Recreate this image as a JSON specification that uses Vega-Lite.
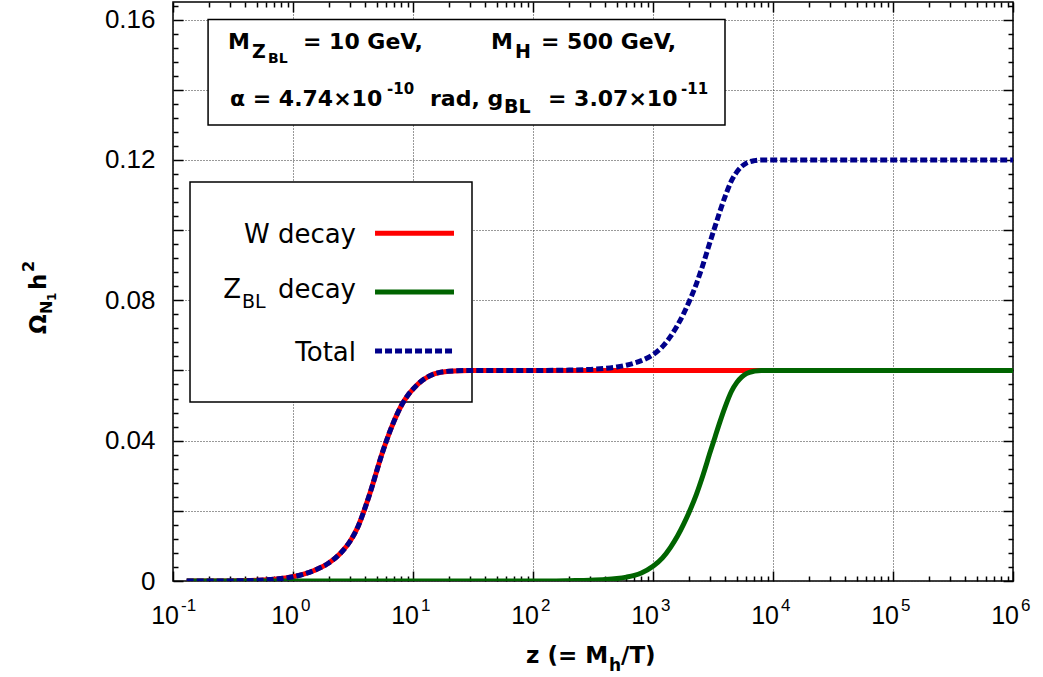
{
  "$schema": "https://vega.github.io/schema/vega-lite/v6.json",
  "width": 840,
  "height": 579,
  "autosize": {"type": "none"},
  "padding": {"left": 173, "top": 2, "right": 30, "bottom": 96},
  "background": "white",
  "config": {
    "view": {"stroke": "black", "strokeWidth": 1.5},
    "axis": {"labelFont": "Liberation Sans", "labelColor": "black", "tickColor": "black", "tickWidth": 1.5, "gridColor": "#333333", "gridDash": [1, 2], "gridWidth": 1, "gridOpacity": 1, "domain": false, "labelOverlap": false, "labelFlush": false}
  },
  "datasets": {
    "curves": [
      {"s": "W", "z": 0.13, "v": 0}, {"s": "W", "z": 0.2, "v": 0.00001}, {"s": "W", "z": 0.3, "v": 0.00003}, {"s": "W", "z": 0.5, "v": 0.0002}, {"s": "W", "z": 0.7, "v": 0.0005}, {"s": "W", "z": 1, "v": 0.0012}, {"s": "W", "z": 1.5, "v": 0.003}, {"s": "W", "z": 2, "v": 0.0052}, {"s": "W", "z": 2.5, "v": 0.008}, {"s": "W", "z": 3, "v": 0.0114}, {"s": "W", "z": 3.5, "v": 0.0157}, {"s": "W", "z": 4, "v": 0.021}, {"s": "W", "z": 4.5, "v": 0.0263}, {"s": "W", "z": 5, "v": 0.0315}, {"s": "W", "z": 5.5, "v": 0.0361}, {"s": "W", "z": 6, "v": 0.0399}, {"s": "W", "z": 7, "v": 0.0458}, {"s": "W", "z": 8, "v": 0.05}, {"s": "W", "z": 9, "v": 0.0528}, {"s": "W", "z": 10, "v": 0.0547}, {"s": "W", "z": 12, "v": 0.0572}, {"s": "W", "z": 15, "v": 0.059}, {"s": "W", "z": 20, "v": 0.0598}, {"s": "W", "z": 30, "v": 0.06}, {"s": "W", "z": 100, "v": 0.06}, {"s": "W", "z": 1000000, "v": 0.06},
      {"s": "Z", "z": 0.13, "v": 0}, {"s": "Z", "z": 100, "v": 0}, {"s": "Z", "z": 200, "v": 0.0001}, {"s": "Z", "z": 300, "v": 0.0002}, {"s": "Z", "z": 400, "v": 0.0004}, {"s": "Z", "z": 500, "v": 0.0007}, {"s": "Z", "z": 600, "v": 0.0011}, {"s": "Z", "z": 700, "v": 0.0016}, {"s": "Z", "z": 800, "v": 0.0023}, {"s": "Z", "z": 1000, "v": 0.0042}, {"s": "Z", "z": 1200, "v": 0.0066}, {"s": "Z", "z": 1400, "v": 0.0096}, {"s": "Z", "z": 1600, "v": 0.0128}, {"s": "Z", "z": 1800, "v": 0.0162}, {"s": "Z", "z": 2000, "v": 0.0196}, {"s": "Z", "z": 2300, "v": 0.0247}, {"s": "Z", "z": 2600, "v": 0.03}, {"s": "Z", "z": 3000, "v": 0.0368}, {"s": "Z", "z": 3300, "v": 0.0412}, {"s": "Z", "z": 3600, "v": 0.0452}, {"s": "Z", "z": 4000, "v": 0.0497}, {"s": "Z", "z": 4500, "v": 0.054}, {"s": "Z", "z": 5000, "v": 0.0566}, {"s": "Z", "z": 5500, "v": 0.0582}, {"s": "Z", "z": 6000, "v": 0.0591}, {"s": "Z", "z": 7000, "v": 0.0598}, {"s": "Z", "z": 8000, "v": 0.06}, {"s": "Z", "z": 10000, "v": 0.06}, {"s": "Z", "z": 1000000, "v": 0.06},
      {"s": "T", "z": 0.13, "v": 0}, {"s": "T", "z": 0.2, "v": 0.00001}, {"s": "T", "z": 0.3, "v": 0.00003}, {"s": "T", "z": 0.5, "v": 0.0002}, {"s": "T", "z": 0.7, "v": 0.0005}, {"s": "T", "z": 1, "v": 0.0012}, {"s": "T", "z": 1.5, "v": 0.003}, {"s": "T", "z": 2, "v": 0.0052}, {"s": "T", "z": 2.5, "v": 0.008}, {"s": "T", "z": 3, "v": 0.0114}, {"s": "T", "z": 3.5, "v": 0.0157}, {"s": "T", "z": 4, "v": 0.021}, {"s": "T", "z": 4.5, "v": 0.0263}, {"s": "T", "z": 5, "v": 0.0315}, {"s": "T", "z": 5.5, "v": 0.0361}, {"s": "T", "z": 6, "v": 0.0399}, {"s": "T", "z": 7, "v": 0.0458}, {"s": "T", "z": 8, "v": 0.05}, {"s": "T", "z": 9, "v": 0.0528}, {"s": "T", "z": 10, "v": 0.0547}, {"s": "T", "z": 12, "v": 0.0572}, {"s": "T", "z": 15, "v": 0.059}, {"s": "T", "z": 20, "v": 0.0598}, {"s": "T", "z": 30, "v": 0.06}, {"s": "T", "z": 100, "v": 0.06}, {"s": "T", "z": 200, "v": 0.0601}, {"s": "T", "z": 300, "v": 0.0603}, {"s": "T", "z": 400, "v": 0.0606}, {"s": "T", "z": 500, "v": 0.061}, {"s": "T", "z": 600, "v": 0.0615}, {"s": "T", "z": 700, "v": 0.0621}, {"s": "T", "z": 800, "v": 0.0628}, {"s": "T", "z": 1000, "v": 0.0645}, {"s": "T", "z": 1200, "v": 0.0668}, {"s": "T", "z": 1400, "v": 0.0697}, {"s": "T", "z": 1600, "v": 0.0729}, {"s": "T", "z": 1800, "v": 0.0762}, {"s": "T", "z": 2000, "v": 0.0796}, {"s": "T", "z": 2300, "v": 0.0847}, {"s": "T", "z": 2600, "v": 0.09}, {"s": "T", "z": 3000, "v": 0.0968}, {"s": "T", "z": 3300, "v": 0.1012}, {"s": "T", "z": 3600, "v": 0.1052}, {"s": "T", "z": 4000, "v": 0.1097}, {"s": "T", "z": 4500, "v": 0.114}, {"s": "T", "z": 5000, "v": 0.1166}, {"s": "T", "z": 5500, "v": 0.1182}, {"s": "T", "z": 6000, "v": 0.1191}, {"s": "T", "z": 7000, "v": 0.1198}, {"s": "T", "z": 8000, "v": 0.12}, {"s": "T", "z": 10000, "v": 0.12}, {"s": "T", "z": 1000000, "v": 0.12}
    ],
    "boxes": [
      {"box": "parameters", "z": 0.196, "z2": 3981, "v": 0.16, "v2": 0.12995},
      {"box": "legend", "z": 0.1386, "z2": 31.02, "v": 0.11371, "v2": 0.05101}
    ],
    "legendlines": [
      {"s": "W", "z": 4.825, "z2": 21.96, "v": 0.09909},
      {"s": "Z", "z": 4.825, "z2": 21.96, "v": 0.08236},
      {"s": "T", "z": 4.825, "z2": 21.96, "v": 0.06555}
    ],
    "xTickBase": [
      {"t": "10", "z": 0.1, "v": -0.01239}, {"t": "10", "z": 1, "v": -0.01239}, {"t": "10", "z": 10, "v": -0.01239}, {"t": "10", "z": 100, "v": -0.01239}, {"t": "10", "z": 1000, "v": -0.01239}, {"t": "10", "z": 10000, "v": -0.01239}, {"t": "10", "z": 100000, "v": -0.01239}, {"t": "10", "z": 1000000, "v": -0.01239}
    ],
    "xTickExp": [
      {"t": "-1", "z": 0.1, "v": -0.00869}, {"t": "0", "z": 1, "v": -0.00869}, {"t": "1", "z": 10, "v": -0.00869}, {"t": "2", "z": 100, "v": -0.00869}, {"t": "3", "z": 1000, "v": -0.00869}, {"t": "4", "z": 10000, "v": -0.00869}, {"t": "5", "z": 100000, "v": -0.00869}, {"t": "6", "z": 1000000, "v": -0.00869}
    ],
    "annMain": [
      {"t": "M", "z": 0.2873, "v": 0.15161},
      {"t": "= 10 GeV,", "z": 1.2115, "v": 0.15161},
      {"t": "M", "z": 44.67, "v": 0.15161},
      {"t": "= 500 GeV,", "z": 116.6, "v": 0.15161},
      {"t": "α = 4.74×10", "z": 0.2985, "v": 0.13537},
      {"t": "rad, g", "z": 13.86, "v": 0.13537},
      {"t": "= 3.07×10", "z": 133.4, "v": 0.13537}
    ],
    "annSub": [
      {"t": "Z", "z": 0.4553, "v": 0.14905},
      {"t": "H", "z": 70.79, "v": 0.14905},
      {"t": "BL", "z": 57.32, "v": 0.13337}
    ],
    "annSmall": [
      {"t": "-10", "z": 6.074, "v": 0.13879},
      {"t": "-11", "z": 1711.7, "v": 0.13879}
    ],
    "annTiny": [
      {"t": "BL", "z": 0.619, "v": 0.14762}
    ],
    "legRight": [
      {"t": "W decay", "z": 3.35, "v": 0.09641},
      {"t": "decay", "z": 3.35, "v": 0.08056},
      {"t": "Total", "z": 3.35, "v": 0.06278}
    ],
    "legZ": [{"t": "Z", "z": 0.2625, "v": 0.08056}],
    "legSub": [{"t": "BL", "z": 0.3758, "v": 0.07788}],
    "xTitleMain": [
      {"t": "z (= M", "z": 87.43, "v": -0.02337},
      {"t": "/T)", "z": 541.3, "v": -0.02337}
    ],
    "xTitleSub": [{"t": "h", "z": 429.9, "v": -0.02565}],
    "yTitleMain": [
      {"t": "Ω", "z": 0.008742, "v": 0.07039},
      {"t": "h", "z": 0.008742, "v": 0.08293}
    ],
    "yTitleSub": [
      {"t": "N", "z": 0.00981, "v": 0.07609},
      {"t": "2", "z": 0.006945, "v": 0.08806}
    ],
    "yTitleSmall": [{"t": "1", "z": 0.01059, "v": 0.0798}]
  },
  "encoding": {
    "x": {"field": "z", "type": "quantitative", "scale": {"type": "log", "domain": [0.1, 1000000]}, "axis": null},
    "y": {"field": "v", "type": "quantitative", "scale": {"domain": [0, 0.165], "nice": false, "zero": false}, "axis": null}
  },
  "layer": [
    {
      "data": {"name": "boxes"},
      "mark": {"type": "rect", "fill": "white", "stroke": "black", "strokeWidth": 1.5},
      "encoding": {"x2": {"field": "z2"}, "y2": {"field": "v2"}}
    },
    {
      "data": {"name": "curves"},
      "transform": [{"filter": "datum.s === 'W'"}],
      "mark": {"type": "line", "color": "#ff0000", "strokeWidth": 5, "interpolate": "monotone", "clip": true},
      "encoding": {
        "x": {"field": "z", "type": "quantitative", "scale": {"type": "log", "domain": [0.1, 1000000]},
          "axis": {"orient": "bottom", "title": null, "values": [0.1, 1, 10, 100, 1000, 10000, 100000, 1000000], "labels": false, "ticks": false, "grid": true}},
        "y": {"field": "v", "type": "quantitative", "scale": {"domain": [0, 0.165], "nice": false, "zero": false},
          "axis": {"orient": "left", "title": null, "values": [0, 0.02, 0.04, 0.06, 0.08, 0.1, 0.12, 0.14, 0.16], "labelExpr": "datum.value == 0 ? '0' : (round(datum.value*100) % 4 == 0 ? format(datum.value, '.2f') : '')", "labelFontSize": 26, "labelPadding": 18, "ticks": false, "grid": true}}
      }
    },
    {
      "data": {"name": "curves"},
      "transform": [{"filter": "datum.s === 'Z'"}],
      "mark": {"type": "line", "color": "#006400", "strokeWidth": 5, "interpolate": "monotone", "clip": true},
      "encoding": {
        "x": {"field": "z", "type": "quantitative", "scale": {"type": "log", "domain": [0.1, 1000000]},
          "axis": {"orient": "bottom", "title": null, "values": [0.1, 1, 10, 100, 1000, 10000, 100000, 1000000], "labels": false, "grid": false, "ticks": true, "tickSize": -10}},
        "y": {"field": "v", "type": "quantitative", "scale": {"domain": [0, 0.165], "nice": false, "zero": false},
          "axis": {"orient": "left", "title": null, "values": [0, 0.02, 0.04, 0.06, 0.08, 0.1, 0.12, 0.14, 0.16], "labels": false, "grid": false, "ticks": true, "tickSize": -10}}
      }
    },
    {
      "data": {"name": "curves"},
      "transform": [{"filter": "datum.s === 'T'"}],
      "mark": {"type": "line", "color": "#00008b", "strokeWidth": 5, "strokeDash": [7, 3], "interpolate": "monotone", "clip": true},
      "encoding": {
        "x": {"field": "z", "type": "quantitative", "scale": {"type": "log", "domain": [0.1, 1000000]},
          "axis": {"orient": "bottom", "title": null, "values": [0.2, 0.3, 0.4, 0.5, 0.6, 0.7, 0.8, 0.9, 2, 3, 4, 5, 6, 7, 8, 9, 20, 30, 40, 50, 60, 70, 80, 90, 200, 300, 400, 500, 600, 700, 800, 900, 2000, 3000, 4000, 5000, 6000, 7000, 8000, 9000, 20000, 30000, 40000, 50000, 60000, 70000, 80000, 90000, 200000, 300000, 400000, 500000, 600000, 700000, 800000, 900000], "labels": false, "grid": false, "ticks": true, "tickSize": -5}},
        "y": {"field": "v", "type": "quantitative", "scale": {"domain": [0, 0.165], "nice": false, "zero": false},
          "axis": {"orient": "left", "title": null, "values": [0.004, 0.008, 0.012, 0.016, 0.024, 0.028, 0.032, 0.036, 0.044, 0.048, 0.052, 0.056, 0.064, 0.068, 0.072, 0.076, 0.084, 0.088, 0.092, 0.096, 0.104, 0.108, 0.112, 0.116, 0.124, 0.128, 0.132, 0.136, 0.144, 0.148, 0.152, 0.156, 0.164], "labels": false, "grid": false, "ticks": true, "tickSize": -5}}
      }
    },
    {
      "data": {"name": "legendlines"},
      "transform": [{"filter": "datum.s === 'W'"}],
      "mark": {"type": "rule", "color": "#ff0000", "strokeWidth": 5},
      "encoding": {
        "x": {"field": "z", "type": "quantitative", "scale": {"type": "log", "domain": [0.1, 1000000]},
          "axis": {"orient": "top", "title": null, "values": [0.1, 1, 10, 100, 1000, 10000, 100000, 1000000], "labels": false, "grid": false, "ticks": true, "tickSize": -10}},
        "y": {"field": "v", "type": "quantitative", "scale": {"domain": [0, 0.165], "nice": false, "zero": false},
          "axis": {"orient": "right", "title": null, "values": [0, 0.02, 0.04, 0.06, 0.08, 0.1, 0.12, 0.14, 0.16], "labels": false, "grid": false, "ticks": true, "tickSize": -10}},
        "x2": {"field": "z2"}
      }
    },
    {
      "data": {"name": "legendlines"},
      "transform": [{"filter": "datum.s === 'Z'"}],
      "mark": {"type": "rule", "color": "#006400", "strokeWidth": 5},
      "encoding": {
        "x": {"field": "z", "type": "quantitative", "scale": {"type": "log", "domain": [0.1, 1000000]},
          "axis": {"orient": "top", "title": null, "values": [0.2, 0.3, 0.4, 0.5, 0.6, 0.7, 0.8, 0.9, 2, 3, 4, 5, 6, 7, 8, 9, 20, 30, 40, 50, 60, 70, 80, 90, 200, 300, 400, 500, 600, 700, 800, 900, 2000, 3000, 4000, 5000, 6000, 7000, 8000, 9000, 20000, 30000, 40000, 50000, 60000, 70000, 80000, 90000, 200000, 300000, 400000, 500000, 600000, 700000, 800000, 900000], "labels": false, "grid": false, "ticks": true, "tickSize": -5}},
        "y": {"field": "v", "type": "quantitative", "scale": {"domain": [0, 0.165], "nice": false, "zero": false},
          "axis": {"orient": "right", "title": null, "values": [0.004, 0.008, 0.012, 0.016, 0.024, 0.028, 0.032, 0.036, 0.044, 0.048, 0.052, 0.056, 0.064, 0.068, 0.072, 0.076, 0.084, 0.088, 0.092, 0.096, 0.104, 0.108, 0.112, 0.116, 0.124, 0.128, 0.132, 0.136, 0.144, 0.148, 0.152, 0.156, 0.164], "labels": false, "grid": false, "ticks": true, "tickSize": -5}},
        "x2": {"field": "z2"}
      }
    },
    {
      "data": {"name": "legendlines"},
      "transform": [{"filter": "datum.s === 'T'"}],
      "mark": {"type": "rule", "color": "#00008b", "strokeWidth": 5, "strokeDash": [7, 3]},
      "encoding": {"x2": {"field": "z2"}}
    },
    {
      "data": {"name": "xTickBase"},
      "mark": {"type": "text", "font": "Liberation Sans", "fontSize": 25, "align": "right", "baseline": "alphabetic", "dx": 6, "color": "black"},
      "encoding": {"text": {"field": "t"}}
    },
    {
      "data": {"name": "xTickExp"},
      "mark": {"type": "text", "font": "Liberation Sans", "fontSize": 17, "align": "left", "baseline": "alphabetic", "dx": 8, "color": "black"},
      "encoding": {"text": {"field": "t"}}
    },
    {
      "data": {"name": "annMain"},
      "mark": {"type": "text", "font": "DejaVu Sans", "fontWeight": "bold", "fontSize": 22, "align": "left", "baseline": "alphabetic", "color": "black"},
      "encoding": {"text": {"field": "t"}}
    },
    {
      "data": {"name": "annSub"},
      "mark": {"type": "text", "font": "DejaVu Sans", "fontWeight": "bold", "fontSize": 19, "align": "left", "baseline": "alphabetic", "color": "black"},
      "encoding": {"text": {"field": "t"}}
    },
    {
      "data": {"name": "annSmall"},
      "mark": {"type": "text", "font": "DejaVu Sans", "fontWeight": "bold", "fontSize": 15, "align": "left", "baseline": "alphabetic", "color": "black"},
      "encoding": {"text": {"field": "t"}}
    },
    {
      "data": {"name": "annTiny"},
      "mark": {"type": "text", "font": "DejaVu Sans", "fontWeight": "bold", "fontSize": 14, "align": "left", "baseline": "alphabetic", "color": "black"},
      "encoding": {"text": {"field": "t"}}
    },
    {
      "data": {"name": "legRight"},
      "mark": {"type": "text", "font": "DejaVu Sans", "fontSize": 26, "align": "right", "baseline": "alphabetic", "color": "black"},
      "encoding": {"text": {"field": "t"}}
    },
    {
      "data": {"name": "legZ"},
      "mark": {"type": "text", "font": "DejaVu Sans", "fontSize": 26, "align": "left", "baseline": "alphabetic", "color": "black"},
      "encoding": {"text": {"field": "t"}}
    },
    {
      "data": {"name": "legSub"},
      "mark": {"type": "text", "font": "DejaVu Sans", "fontSize": 19, "align": "left", "baseline": "alphabetic", "color": "black"},
      "encoding": {"text": {"field": "t"}}
    },
    {
      "data": {"name": "xTitleMain"},
      "mark": {"type": "text", "font": "DejaVu Sans", "fontWeight": "bold", "fontSize": 23, "align": "left", "baseline": "alphabetic", "color": "black"},
      "encoding": {"text": {"field": "t"}}
    },
    {
      "data": {"name": "xTitleSub"},
      "mark": {"type": "text", "font": "DejaVu Sans", "fontWeight": "bold", "fontSize": 17, "align": "left", "baseline": "alphabetic", "color": "black"},
      "encoding": {"text": {"field": "t"}}
    },
    {
      "data": {"name": "yTitleMain"},
      "mark": {"type": "text", "font": "DejaVu Sans", "fontWeight": "bold", "fontSize": 23, "align": "left", "baseline": "alphabetic", "angle": 270, "color": "black"},
      "encoding": {"text": {"field": "t"}}
    },
    {
      "data": {"name": "yTitleSub"},
      "mark": {"type": "text", "font": "DejaVu Sans", "fontWeight": "bold", "fontSize": 16, "align": "left", "baseline": "alphabetic", "angle": 270, "color": "black"},
      "encoding": {"text": {"field": "t"}}
    },
    {
      "data": {"name": "yTitleSmall"},
      "mark": {"type": "text", "font": "DejaVu Sans", "fontWeight": "bold", "fontSize": 12, "align": "left", "baseline": "alphabetic", "angle": 270, "color": "black"},
      "encoding": {"text": {"field": "t"}}
    }
  ],
  "resolve": {"axis": {"x": "independent", "y": "independent"}}
}
